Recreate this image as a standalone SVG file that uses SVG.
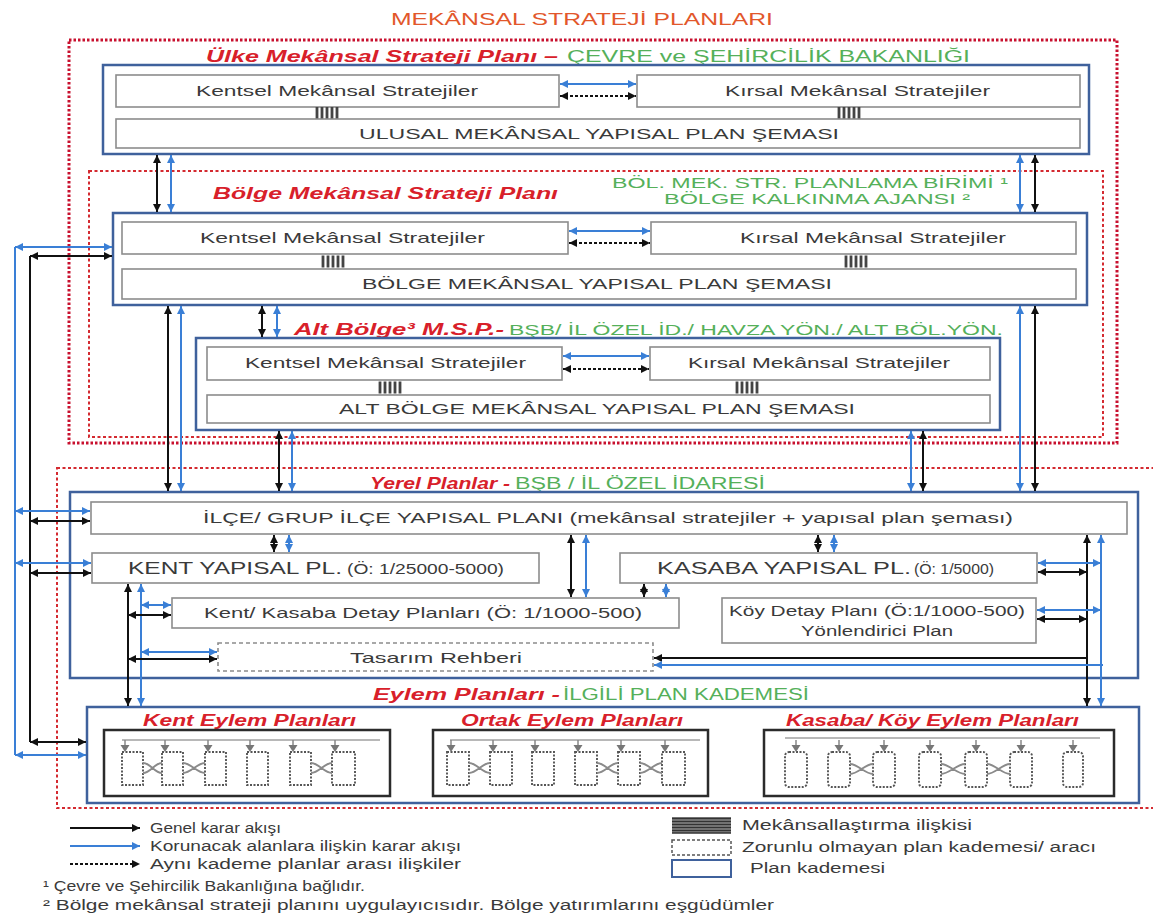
<svg xmlns="http://www.w3.org/2000/svg" width="1153" height="918" viewBox="0 0 1153 918">
<defs>
<style>
.t{font-family:"Liberation Sans",Arial,sans-serif;font-size:15px;fill:#3a3a3a}
.lg{font-family:"Liberation Sans",Arial,sans-serif;font-size:14px;fill:#3a3a3a}
.hd{font-family:"Liberation Sans",Arial,sans-serif;font-size:17px;font-weight:bold;font-style:italic;fill:#d8202a}
.hd2{font-family:"Liberation Sans",Arial,sans-serif;font-size:16px;font-weight:bold;font-style:italic;fill:#d8202a}
.gr{font-family:"Liberation Sans",Arial,sans-serif;font-size:16px;fill:#55b05a}
.gs{font-family:"Liberation Sans",Arial,sans-serif;font-size:14px;fill:#55b05a}
.pk{fill:none;stroke:#3f619c;stroke-width:2.5}
.ib{fill:#fff;stroke:#8c8c8c;stroke-width:1.6}
.db{fill:#fff;stroke:#8c8c8c;stroke-width:1.6;stroke-dasharray:4 3}
.r1{fill:none;stroke:#c8102e;stroke-width:3;stroke-dasharray:2.5 2}
.r2{fill:none;stroke:#d42a30;stroke-width:2;stroke-dasharray:3 2.5}
.k{fill:none;stroke:#111;stroke-width:2}
.bl{fill:none;stroke:#3a7fd6;stroke-width:2}
.k2{fill:none;stroke:#111;stroke-width:2;marker-start:url(#ak);marker-end:url(#ak)}
.b2{fill:none;stroke:#3a7fd6;stroke-width:2;marker-start:url(#ab);marker-end:url(#ab)}
.kd2{fill:none;stroke:#111;stroke-width:2;stroke-dasharray:3 2;marker-start:url(#ak);marker-end:url(#ak)}
.k1{fill:none;stroke:#111;stroke-width:2;marker-end:url(#ak)}
.b1{fill:none;stroke:#3a7fd6;stroke-width:2;marker-end:url(#ab)}
.kd1{fill:none;stroke:#111;stroke-width:2;stroke-dasharray:3 2;marker-end:url(#ak)}
.eb{fill:none;stroke:#2b2b2b;stroke-width:2.5}
.mr{fill:none;stroke:#555;stroke-width:1.9;stroke-dasharray:2 1.5}
.mx{fill:none;stroke:#8a8a8a;stroke-width:1.8}
.ml{fill:none;stroke:#a0a0a0;stroke-width:1.6}
</style>
<marker id="ak" viewBox="0 0 10 10" refX="10" refY="5" markerWidth="8" markerHeight="8" markerUnits="userSpaceOnUse" orient="auto-start-reverse"><path d="M0 0L10 5L0 10Z" fill="#111"/></marker>
<marker id="ab" viewBox="0 0 10 10" refX="10" refY="5" markerWidth="8" markerHeight="8" markerUnits="userSpaceOnUse" orient="auto-start-reverse"><path d="M0 0L10 5L0 10Z" fill="#3a7fd6"/></marker>
<g id="hatch"><path d="M1 0V12M6 0V12M11 0V12M16 0V12M21 0V12" stroke="#444" stroke-width="2.8"/></g>
<g id="ma"><path d="M0 0V6" stroke="#888" stroke-width="1.5"/><path d="M-4.5 5H4.5L0 12Z" fill="#777"/></g>
</defs>
<rect width="1153" height="918" fill="#fff"/>

<text x="391" y="25" textLength="382" lengthAdjust="spacingAndGlyphs" style="font-family:'Liberation Sans',Arial,sans-serif;font-size:17px;fill:#e2572b">MEKÂNSAL STRATEJİ PLANLARI</text>

<g id="ulke">
<rect class="r1" x="69" y="40" width="1048" height="403"/>
<text class="hd" x="206" y="62" textLength="352" lengthAdjust="spacingAndGlyphs">Ülke Mekânsal Strateji Planı –</text>
<text class="gr" x="567" y="62" textLength="403" lengthAdjust="spacingAndGlyphs">ÇEVRE ve ŞEHİRCİLİK BAKANLIĞI</text>
<rect class="pk" x="103" y="65" width="986" height="89"/>
<rect class="ib" x="116" y="75" width="443" height="32"/>
<text class="t" x="196" y="96" textLength="282" lengthAdjust="spacingAndGlyphs">Kentsel Mekânsal Stratejiler</text>
<rect class="ib" x="637" y="75" width="443" height="32"/>
<text class="t" x="725" y="96" textLength="265" lengthAdjust="spacingAndGlyphs">Kırsal Mekânsal Stratejiler</text>
<use href="#hatch" x="316" y="107"/>
<use href="#hatch" x="838" y="107"/>
<rect class="ib" x="116" y="119" width="964" height="29"/>
<text class="t" x="359" y="139" textLength="480" lengthAdjust="spacingAndGlyphs">ULUSAL MEKÂNSAL YAPISAL PLAN ŞEMASI</text>
</g>

<g id="bolge">
<rect class="r2" x="89" y="171" width="1014" height="266"/>
<text class="hd" x="213" y="199" textLength="345" lengthAdjust="spacingAndGlyphs">Bölge Mekânsal Strateji Planı</text>
<text class="gs" x="612" y="188" textLength="396" lengthAdjust="spacingAndGlyphs">BÖL. MEK. STR. PLANLAMA BİRİMİ ¹</text>
<text class="gs" x="664" y="204" textLength="306" lengthAdjust="spacingAndGlyphs">BÖLGE KALKINMA AJANSI ²</text>
<rect class="pk" x="113" y="213" width="974" height="92"/>
<rect class="ib" x="122" y="222" width="446" height="32"/>
<text class="t" x="200" y="243" textLength="285" lengthAdjust="spacingAndGlyphs">Kentsel Mekânsal Stratejiler</text>
<rect class="ib" x="651" y="222" width="425" height="32"/>
<text class="t" x="740" y="243" textLength="266" lengthAdjust="spacingAndGlyphs">Kırsal Mekânsal Stratejiler</text>
<use href="#hatch" x="322" y="255.5"/>
<use href="#hatch" x="845" y="255.5"/>
<rect class="ib" x="122" y="269" width="954" height="30"/>
<text class="t" x="362" y="289" textLength="470" lengthAdjust="spacingAndGlyphs">BÖLGE MEKÂNSAL YAPISAL PLAN ŞEMASI</text>
</g>

<g id="altbolge">
<text class="hd" x="294" y="335" textLength="210" lengthAdjust="spacingAndGlyphs">Alt Bölge³ M.S.P.-</text>
<text class="gs" x="509" y="335" textLength="494" lengthAdjust="spacingAndGlyphs">BŞB/ İL ÖZEL İD./ HAVZA YÖN./ ALT BÖL.YÖN.</text>
<rect class="pk" x="196" y="338" width="804" height="92"/>
<rect class="ib" x="207" y="347" width="355" height="33"/>
<text class="t" x="245" y="368" textLength="281" lengthAdjust="spacingAndGlyphs">Kentsel Mekânsal Stratejiler</text>
<rect class="ib" x="650" y="347" width="340" height="33"/>
<text class="t" x="688" y="368" textLength="262" lengthAdjust="spacingAndGlyphs">Kırsal Mekânsal Stratejiler</text>
<use href="#hatch" x="379" y="381.5"/>
<use href="#hatch" x="736" y="381.5"/>
<rect class="ib" x="207" y="395" width="783" height="28"/>
<text class="t" x="339" y="414" textLength="516" lengthAdjust="spacingAndGlyphs">ALT BÖLGE MEKÂNSAL YAPISAL PLAN ŞEMASI</text>
</g>

<g id="yerel">
<rect class="r2" x="57" y="468" width="1110" height="340"/>
<text class="hd" x="370" y="489" textLength="140" lengthAdjust="spacingAndGlyphs">Yerel Planlar -</text>
<text class="gr" x="515" y="489" textLength="250" lengthAdjust="spacingAndGlyphs">BŞB / İL ÖZEL İDARESİ</text>
<rect class="pk" x="70" y="492" width="1068" height="186"/>
</g>

<g id="ilce">
<rect class="ib" x="91" y="502" width="1036" height="32"/>
<text class="t" x="203" y="523" textLength="810" lengthAdjust="spacingAndGlyphs">İLÇE/ GRUP İLÇE YAPISAL  PLANI (mekânsal stratejiler + yapısal plan şeması)</text>
</g>
<g id="kent-yapisal">
<rect class="ib" x="92" y="553" width="447" height="30"/>
<text class="t" x="128" y="574" textLength="214" lengthAdjust="spacingAndGlyphs" style="font-size:16px">KENT YAPISAL  PL.</text>
<text class="t" x="347" y="574" textLength="157" lengthAdjust="spacingAndGlyphs" style="font-size:14px">(Ö: 1/25000-5000)</text>
</g>
<g id="kasaba-yapisal">
<rect class="ib" x="620" y="553" width="417" height="30"/>
<text class="t" x="657" y="574" textLength="254" lengthAdjust="spacingAndGlyphs" style="font-size:16px">KASABA YAPISAL  PL.</text>
<text class="t" x="914" y="574" textLength="80" lengthAdjust="spacingAndGlyphs" style="font-size:14px">(Ö: 1/5000)</text>
</g>
<g id="kent-kasaba-detay">
<rect class="ib" x="172" y="598" width="507" height="30"/>
<text class="t" x="204" y="618" textLength="438" lengthAdjust="spacingAndGlyphs">Kent/ Kasaba Detay Planları (Ö: 1/1000-500)</text>
</g>
<g id="koy-detay">
<rect class="ib" x="722" y="598" width="314" height="45"/>
<text class="t" x="729" y="616" textLength="296" lengthAdjust="spacingAndGlyphs" style="font-size:14px">Köy Detay Planı (Ö:1/1000-500)</text>
<text class="t" x="801" y="636" textLength="152" lengthAdjust="spacingAndGlyphs" style="font-size:14px">Yönlendirici Plan</text>
</g>
<g id="tasarim">
<rect class="db" x="218" y="643" width="435" height="28"/>
<text class="t" x="350" y="663" textLength="172" lengthAdjust="spacingAndGlyphs">Tasarım Rehberi</text>
</g>

<g id="eylem">
<text class="hd" x="373" y="700" textLength="187" lengthAdjust="spacingAndGlyphs">Eylem Planları -</text>
<text class="gr" x="563" y="700" textLength="246" lengthAdjust="spacingAndGlyphs">İLGİLİ PLAN KADEMESİ</text>
<rect class="pk" x="87" y="707" width="1052" height="96"/>
</g>

<g id="kent-eylem">
<text class="hd2" x="143" y="726" textLength="213" lengthAdjust="spacingAndGlyphs">Kent Eylem Planları</text>
<rect class="eb" x="104" y="730" width="286" height="66"/>
<path class="ml" d="M122 740H380"/>
<rect class="mr" x="122" y="752" width="21" height="33"/>
<rect class="mr" x="162" y="752" width="21" height="33"/>
<rect class="mr" x="205" y="752" width="21" height="33"/>
<rect class="mr" x="247" y="752" width="21" height="33"/>
<rect class="mr" x="290" y="752" width="21" height="33"/>
<rect class="mr" x="332" y="752" width="23" height="33"/>
<use href="#ma" x="125" y="740"/><use href="#ma" x="165" y="740"/><use href="#ma" x="208" y="740"/><use href="#ma" x="250" y="740"/><use href="#ma" x="293" y="740"/><use href="#ma" x="335" y="740"/>
<path class="mx" d="M143 763C151 763 154 773 162 773M143 773C151 773 154 763 162 763M183 763C191 763 197 773 205 773M183 773C191 773 197 763 205 763M311 763C319 763 324 773 332 773M311 773C319 773 324 763 332 763"/>
</g>

<g id="ortak-eylem">
<text class="hd2" x="461" y="726" textLength="222" lengthAdjust="spacingAndGlyphs">Ortak Eylem Planları</text>
<rect class="eb" x="433" y="730" width="275" height="66"/>
<path class="ml" d="M450 740H700"/>
<rect class="mr" x="447" y="752" width="22" height="33"/>
<rect class="mr" x="490" y="752" width="22" height="33"/>
<rect class="mr" x="532" y="752" width="22" height="33"/>
<rect class="mr" x="575" y="752" width="22" height="33"/>
<rect class="mr" x="618" y="752" width="22" height="33"/>
<rect class="mr" x="662" y="752" width="23" height="33"/>
<use href="#ma" x="451" y="740"/><use href="#ma" x="493" y="740"/><use href="#ma" x="535" y="740"/><use href="#ma" x="578" y="740"/><use href="#ma" x="621" y="740"/><use href="#ma" x="665" y="740"/>
<path class="mx" d="M469 763C477 763 482 773 490 773M469 773C477 773 482 763 490 763M597 763C605 763 610 773 618 773M597 773C605 773 610 763 618 763M640 763C648 763 654 773 662 773M640 773C648 773 654 763 662 763"/>
</g>

<g id="kasaba-koy-eylem">
<text class="hd2" x="786" y="726" textLength="293" lengthAdjust="spacingAndGlyphs">Kasaba/ Köy Eylem Planları</text>
<rect class="eb" x="764" y="730" width="350" height="66"/>
<path class="ml" d="M785 738H1100"/>
<rect class="mr" x="785" y="752" width="22" height="35" rx="4"/>
<rect class="mr" x="828" y="752" width="22" height="35" rx="4"/>
<rect class="mr" x="873" y="752" width="22" height="35" rx="4"/>
<rect class="mr" x="919" y="752" width="22" height="35" rx="4"/>
<rect class="mr" x="965" y="752" width="22" height="35" rx="4"/>
<rect class="mr" x="1010" y="752" width="22" height="35" rx="4"/>
<rect class="mr" x="1063" y="752" width="20" height="35" rx="4"/>
<use href="#ma" x="796" y="740"/><use href="#ma" x="839" y="740"/><use href="#ma" x="884" y="740"/><use href="#ma" x="930" y="740"/><use href="#ma" x="976" y="740"/><use href="#ma" x="1021" y="740"/><use href="#ma" x="1073" y="740"/>
<path class="mx" d="M850 764C858 764 865 774 873 774M850 774C858 774 865 764 873 764M941 764C949 764 957 774 965 774M941 774C949 774 957 764 965 764M987 764C995 764 1002 774 1010 774M987 774C995 774 1002 764 1010 764"/>
</g>

<g id="connectors">
<path class="b2" d="M560 84H636"/>
<path class="kd2" d="M560 96H636"/>
<path class="b2" d="M569 231H650"/>
<path class="kd2" d="M569 243H650"/>
<path class="b2" d="M563 356H649"/>
<path class="kd2" d="M563 369H649"/>
<path class="k2" d="M157 155V212"/>
<path class="b2" d="M171 155V212"/>
<path class="b2" d="M1020 155V212"/>
<path class="k2" d="M1035 155V212"/>
<path class="k2" d="M262 306V337"/>
<path class="b2" d="M277 306V337"/>
<path class="k2" d="M168 306V491"/>
<path class="b2" d="M181 306V491"/>
<path class="b2" d="M1020 306V491"/>
<path class="k2" d="M1035 306V491"/>
<path class="k2" d="M279 431V491"/>
<path class="b2" d="M292 431V491"/>
<path class="b2" d="M911 431V491"/>
<path class="k2" d="M923 431V491"/>
<path class="bl" d="M15 247V755"/>
<path class="k" d="M30 256V742"/>
<path class="b2" d="M15 247H112"/>
<path class="k2" d="M30 256H112"/>
<path class="b2" d="M15 511H90"/>
<path class="k2" d="M30 521H90"/>
<path class="b2" d="M15 563H91"/>
<path class="k2" d="M30 573H91"/>
<path class="k2" d="M30 742H86"/>
<path class="b2" d="M15 755H86"/>
<path class="k2" d="M274 535V552"/>
<path class="b2" d="M289 535V552"/>
<path class="k2" d="M571 535V597"/>
<path class="b2" d="M586 535V597"/>
<path class="k2" d="M818 535V552"/>
<path class="b2" d="M834 535V552"/>
<path class="k2" d="M644 584V597"/>
<path class="b2" d="M666 584V597"/>
<path class="k2" d="M128 584V706"/>
<path class="b2" d="M141 584V706"/>
<path class="b2" d="M141 605H171"/>
<path class="k2" d="M128 615H171"/>
<path class="b2" d="M141 652H217"/>
<path class="k2" d="M128 659H217"/>
<path class="k2" d="M1087 535V706"/>
<path class="b2" d="M1101 535V706"/>
<path class="b2" d="M1038 563H1101"/>
<path class="k2" d="M1038 572H1087"/>
<path class="b2" d="M1037 610H1101"/>
<path class="k2" d="M1037 619H1087"/>
<path class="k1" d="M1087 658H654"/>
<path class="b1" d="M1103 665H654"/>
</g>

<g id="legend">
<path class="k1" d="M70 828H140"/>
<text class="lg" x="150" y="833" textLength="131" lengthAdjust="spacingAndGlyphs">Genel karar akışı</text>
<path class="b1" d="M70 846H140"/>
<text class="lg" x="150" y="851" textLength="311" lengthAdjust="spacingAndGlyphs">Korunacak alanlara ilişkin karar akışı</text>
<path class="kd1" d="M70 864H140"/>
<text class="lg" x="150" y="869" textLength="311" lengthAdjust="spacingAndGlyphs">Aynı kademe planlar arası ilişkiler</text>
<text class="lg" x="43" y="891" textLength="322" lengthAdjust="spacingAndGlyphs">¹ Çevre ve Şehircilik Bakanlığına bağlıdır.</text>
<text class="lg" x="43" y="910" textLength="731" lengthAdjust="spacingAndGlyphs">² Bölge mekânsal strateji planını uygulayıcısıdır. Bölge yatırımlarını eşgüdümler</text>
<rect x="672" y="817" width="59" height="16" fill="#888"/>
<path d="M672 818.5H731M672 821.5H731M672 824.5H731M672 827.5H731M672 830.5H731M672 833H731" stroke="#333" stroke-width="1.5"/>
<text class="lg" x="742" y="830" textLength="230" lengthAdjust="spacingAndGlyphs">Mekânsallaştırma  ilişkisi</text>
<rect x="672" y="840" width="59" height="15" fill="none" stroke="#555" stroke-width="1.5" stroke-dasharray="3 2"/>
<text class="lg" x="742" y="852" textLength="354" lengthAdjust="spacingAndGlyphs">Zorunlu olmayan plan kademesi/ aracı</text>
<rect x="672" y="860" width="59" height="17" fill="none" stroke="#3f619c" stroke-width="2"/>
<text class="lg" x="750" y="873" textLength="135" lengthAdjust="spacingAndGlyphs">Plan kademesi</text>
</g>
</svg>
